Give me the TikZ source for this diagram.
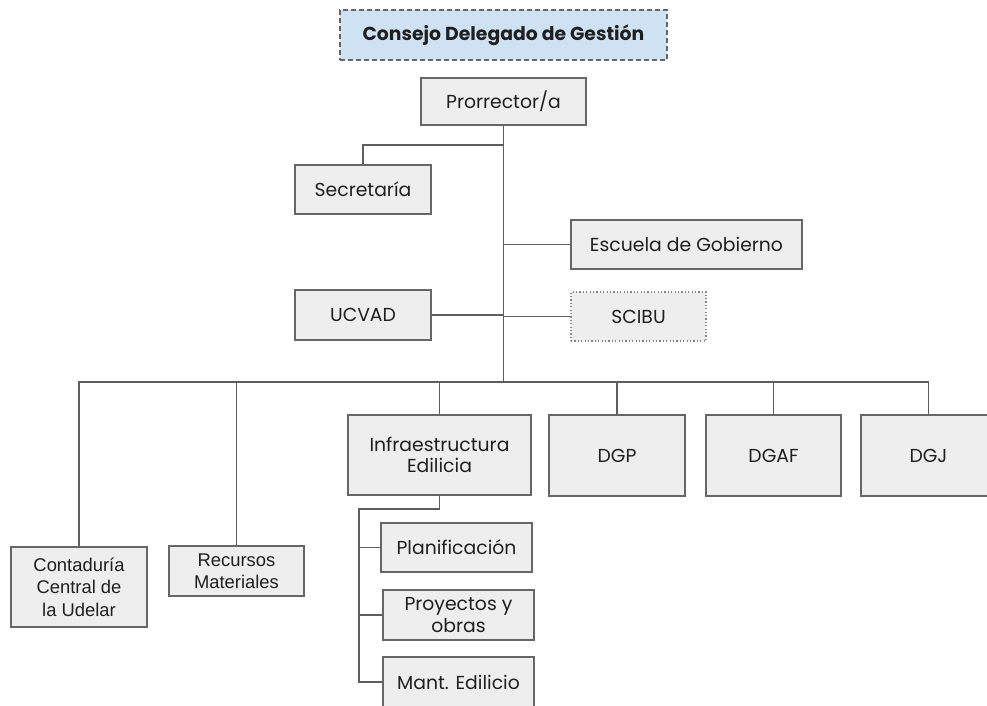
\documentclass[tikz,border=0pt]{standalone}
\usepackage{fontspec}
\setmainfont{Poppins}
\newfontfamily\arialf{Liberation Sans}
\definecolor{boxfill}{HTML}{EEEEEE}
\definecolor{boxline}{HTML}{666666}
\definecolor{wire}{HTML}{5E5E5E}
\definecolor{titlefill}{HTML}{CFE2F3}
\definecolor{ink}{HTML}{1F1F1F}
\begin{document}
\begin{tikzpicture}[x=1pt,y=-1pt,
  unit/.style={draw=boxline, line width=1.2pt, fill=boxfill, text=ink,
    inner sep=0pt, align=center, font=\fontsize{18.8}{21.5}\selectfont},
  arialunit/.style={unit, font=\arialf\fontsize{18.4}{22.5}\selectfont},
  wirestyle/.style={draw=wire, line width=1.2pt}]
\useasboundingbox (0,0) rectangle (987,705);
\clip (0,0) rectangle (987,705);

% title
\node[draw=boxline, line width=1.1pt, dash pattern=on 5pt off 3pt, fill=titlefill,
  text=ink, minimum width=327pt, minimum height=50pt, inner sep=0pt,
  font=\fontsize{18.8}{22}\selectfont\bfseries] (title) at (503.5,35) {Consejo Delegado de Gestión};

% top level
\node[unit, minimum width=165pt, minimum height=47pt] (prorr) at (503.5,101.5) {Prorrector/a};
\node[unit, minimum width=136pt, minimum height=49pt] (secr) at (363,189.5) {Secretaría};
\node[unit, minimum width=231pt, minimum height=49pt] (escuela) at (686.5,244.5) {Escuela de Gobierno};
\node[unit, minimum width=136pt, minimum height=50pt] (ucvad) at (363,315) {UCVAD};
\node[unit, draw=boxline!80, dash pattern=on 1.2pt off 2.2pt, minimum width=135pt, minimum height=49pt] (scibu) at (638.5,316.5) {SCIBU};

% second row
\node[arialunit, minimum width=136pt, minimum height=80pt] (cont) at (79,587) {Contaduría\\Central de\\la Udelar};
\node[arialunit, minimum width=135pt, minimum height=50pt] (recur) at (236.5,571) {Recursos\\Materiales};
\node[unit, minimum width=183pt, minimum height=80pt] (infra) at (439.5,455) {Infraestructura\\Edilicia};
\node[unit, minimum width=136pt, minimum height=81pt] (dgp) at (617,455.5) {DGP};
\node[unit, minimum width=135pt, minimum height=81pt] (dgaf) at (773.5,455.5) {DGAF};
\node[unit, minimum width=135pt, minimum height=81pt] (dgj) at (928.5,455.5) {DGJ};

% infraestructura sub-units
\node[unit, minimum width=151pt, minimum height=49pt] (plan) at (456.5,547.5) {Planificación};
\node[unit, minimum width=151pt, minimum height=50pt] (proy) at (458.5,615) {Proyectos y\\obras};
\node[unit, minimum width=151pt, minimum height=50pt] (mant) at (458.5,682) {Mant. Edilicio};

% junction points
\coordinate (jsecr) at (503.5,145);
\coordinate (hub) at (503.5,382);
\coordinate (isub) at (359,509);

% connectors
\draw[wirestyle] (prorr.south) -- (hub);
\draw[wirestyle] (jsecr) -| (secr.north);
\draw[wirestyle] (escuela.west) -- (escuela.west -| hub);
\draw[wirestyle] (ucvad.east) -- (ucvad.east -| hub);
\draw[wirestyle] (scibu.west) -- (scibu.west -| hub);
\draw[wirestyle] (hub) -| (cont.north);
\draw[wirestyle] (hub) -| (recur.north);
\draw[wirestyle] (hub) -| (infra.north);
\draw[wirestyle] (hub) -| (dgp.north);
\draw[wirestyle] (hub) -| (dgaf.north);
\draw[wirestyle] (hub) -| (dgj.north);
\draw[wirestyle] (infra.south) |- (isub) -- (isub |- mant.west) -- (mant.west);
\draw[wirestyle] (plan.west) -- (plan.west -| isub);
\draw[wirestyle] (proy.west) -- (proy.west -| isub);
\end{tikzpicture}
\end{document}
